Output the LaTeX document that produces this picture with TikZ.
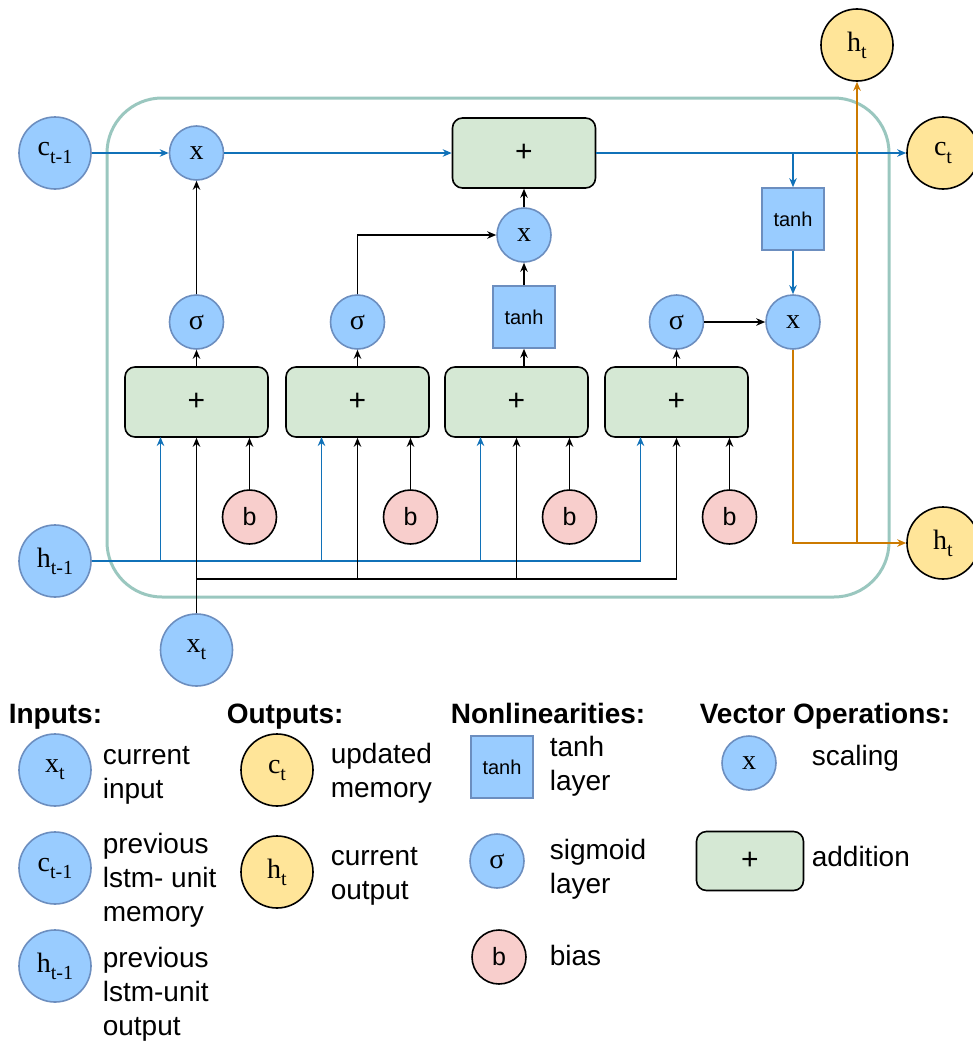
\documentclass[tikz,border=0pt]{standalone}
\usepackage{fontspec}
\setmainfont{Liberation Sans}
\newfontfamily\serifface{Liberation Serif}
\usetikzlibrary{arrows.meta}

\definecolor{nodeblue}{HTML}{99CCFF}
\definecolor{nodeblueline}{HTML}{6C8EBF}
\definecolor{gatefill}{HTML}{D5E8D4}
\definecolor{biasfill}{HTML}{F8CECC}
\definecolor{outfill}{HTML}{FFE599}
\definecolor{cellline}{HTML}{9AC7BF}
\definecolor{memblue}{HTML}{1071B8}
\definecolor{outorange}{HTML}{CC7A00}

\newcommand{\lstmvar}[2]{{\serifface\fontsize{28}{28}\selectfont #1\raisebox{-7pt}{\fontsize{20}{20}\selectfont #2}}}

\begin{document}
\begin{tikzpicture}[x=1pt,y=-1pt,>={Stealth[length=9pt,width=7.5pt]},line width=1.6pt,
    smallop/.style={circle,draw=nodeblueline,fill=nodeblue,minimum size=54pt,inner sep=0pt,font=\serifface\fontsize{28}{28}\selectfont},
    bigvar/.style={circle,draw=nodeblueline,fill=nodeblue,minimum size=72pt,inner sep=0pt},
    outvar/.style={bigvar,draw=black,fill=outfill},
    tanhbox/.style={rectangle,draw=nodeblueline,fill=nodeblue,minimum size=62pt,inner sep=0pt,font=\fontsize{20}{20}\selectfont},
    gatebox/.style={rectangle,rounded corners=10pt,draw=black,fill=gatefill,minimum width=143pt,minimum height=70pt,font=\fontsize{30}{30}\selectfont},
    biasnode/.style={circle,draw=black,fill=biasfill,minimum size=54pt,inner sep=0pt,font=\fontsize{25}{25}\selectfont},
    memflow/.style={->,draw=memblue,line width=1.5pt},
    outflow/.style={->,draw=outorange,line width=1.5pt},
    header/.style={anchor=base west,inner sep=0pt,font=\bfseries\fontsize{28}{34}\selectfont},
    legtext/.style={anchor=base west,inner sep=0pt,align=left,font=\fontsize{28}{34}\selectfont}]

\useasboundingbox (0,0) rectangle (972,1041);

% cell
\draw[cellline,line width=3pt,rounded corners=55pt] (107,98) rectangle (889,597);

% inputs and outputs
\node[bigvar] (cin) at (55,153) {\lstmvar{c}{t-1}};
\node[bigvar] (hin) at (55,561) {\lstmvar{h}{t-1}};
\node[bigvar] (xin) at (196.5,650) {\lstmvar{x}{t}};
\node[outvar] (cout) at (943,153) {\lstmvar{c}{t}};
\node[outvar] (hout) at (943,543) {\lstmvar{h}{t}};
\node[outvar] (htop) at (857,45) {\lstmvar{h}{t}};

% gates
\foreach \i/\gx in {1/196.5,2/357.5,3/516.5,4/676.5}{
    \node[gatebox] (g-\i) at (\gx,402) {+};
    \node[biasnode] (b-\i) at (\gx+53,517) {b};
    \coordinate (h-\i) at (\gx-36,437);
    \draw[->] (b-\i) -- (b-\i |- g-\i.south);
}

\node[smallop] (sig-1) at (196.5,322) {σ};
\node[smallop] (sig-2) at (357.5,322) {σ};
\node[tanhbox] (tanhc) at (524,317) {tanh};
\node[smallop] (sig-4) at (676.5,322) {σ};

\node[smallop] (mul1) at (196.5,153) {x};
\node[smallop] (mul2) at (524,235) {x};
\node[gatebox] (addc) at (524,153) {+};
\node[tanhbox] (tanho) at (793,219) {tanh};
\node[smallop] (mulo) at (793,322) {x};

% memory line
\draw[memflow] (cin) -- (mul1);
\draw[memflow] (mul1) -- (addc);
\draw[memflow] (addc) -- (cout);
\draw[memflow] (tanho |- addc) -- (tanho);
\draw[memflow] (tanho) -- (mulo);

% gate outputs
\draw[->] (g-1) -- (sig-1);
\draw[->] (g-2) -- (sig-2);
\draw[->] (tanhc |- g-3.north) -- (tanhc);
\draw[->] (g-4) -- (sig-4);
\draw[->] (sig-1) -- (mul1);
\draw[->] (sig-2) |- (mul2);
\draw[->] (tanhc) -- (mul2);
\draw[->] (mul2) -- (addc);
\draw[->] (sig-4) -- (mulo);

% output line
\draw[outflow] (mulo) |- (hout);
\draw[outflow] (htop |- hout) -- (htop);

% h_{t-1} bus
\draw[memflow] (hin) -| (h-4);
\foreach \i in {1,2,3}
    \draw[memflow] (h-\i |- hin) -- (h-\i);

% x_t bus
\coordinate (xbus) at (196.5,579);
\draw[->] (xin) -- (g-1);
\draw[->] (xbus) -| (g-4);
\foreach \i in {2,3}
    \draw[->] (g-\i |- xbus) -- (g-\i);

% legend
\node[header] (inputs) at (8,723) {Inputs:};
\node[header] (outputs) at (226,723) {Outputs:};
\node[header] (nonlin) at (450,723) {Nonlinearities:};
\node[header] (vecops) at (699,723) {Vector Operations:};

\node[bigvar] (leg-x) at (55,770) {\lstmvar{x}{t}};
\node[bigvar] (leg-c) at (55,868) {\lstmvar{c}{t-1}};
\node[bigvar] (leg-h) at (55,966) {\lstmvar{h}{t-1}};
\node[legtext] (txt-x) at (102,798) {current\\input};
\node[legtext] (txt-c) at (102,921) {previous\\lstm- unit\\memory};
\node[legtext] (txt-h) at (102,1035) {previous\\lstm-unit\\output};

\node[outvar] (leg-ct) at (277,770) {\lstmvar{c}{t}};
\node[outvar] (leg-ht) at (277,872) {\lstmvar{h}{t}};
\node[legtext] (txt-ct) at (330,797) {updated\\memory};
\node[legtext] (txt-ht) at (330,899) {current\\output};

\node[tanhbox] (leg-tanh) at (502,767) {tanh};
\node[smallop] (leg-sig) at (497,861) {σ};
\node[biasnode] (leg-b) at (499,957) {b};
\node[legtext] (txt-tanh) at (549,790) {tanh\\layer};
\node[legtext] (txt-sig) at (549,893) {sigmoid\\layer};
\node[legtext] (txt-b) at (549,965) {bias};

\node[smallop] (leg-mul) at (749,763) {x};
\node[gatebox,minimum width=107pt,minimum height=59pt] (leg-add) at (750,861) {+};
\node[legtext] (txt-mul) at (811,765) {scaling};
\node[legtext] (txt-add) at (811,866) {addition};

\end{tikzpicture}
\end{document}
